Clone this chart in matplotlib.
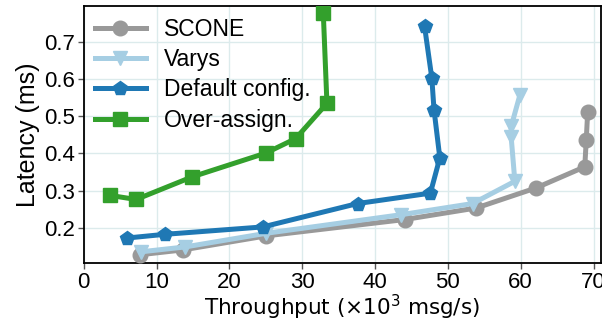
import matplotlib
matplotlib.use("Agg")
import matplotlib.pyplot as plt

plt.rcParams['font.family'] = ['Liberation Sans', 'DejaVu Sans']

labels = ["SCONE", "Varys", "Default config.", "Over-assign."]
colors = ["#999999", "#a6cee3", "#1f78b4", "#33a02c"]
markers = ["o", "v", "p", "s"]

scone_x = [7.7, 13.6, 25.1, 44.1, 53.9, 62.1, 68.8, 69.0, 69.2]
scone_y = [0.127, 0.140, 0.178, 0.222, 0.253, 0.307, 0.364, 0.435, 0.512]
varys_x = [7.9, 13.9, 25.1, 43.6, 53.4, 59.2, 58.7, 58.7, 59.9]
varys_y = [0.135, 0.148, 0.185, 0.235, 0.265, 0.325, 0.443, 0.473, 0.558]
default_x = [5.9, 11.1, 24.6, 37.6, 47.6, 48.9, 48.1, 47.8, 46.8]
default_y = [0.172, 0.182, 0.202, 0.265, 0.293, 0.388, 0.518, 0.603, 0.743]
over_x = [3.6, 7.2, 14.9, 25.0, 29.1, 33.4, 32.9]
over_y = [0.287, 0.276, 0.337, 0.401, 0.440, 0.535, 0.778]

series = [(scone_x, scone_y), (varys_x, varys_y), (default_x, default_y), (over_x, over_y)]

xticks = [0, 10, 20, 30, 40, 50, 60, 70]
yticks = [0.2, 0.3, 0.4, 0.5, 0.6, 0.7]

fig = plt.figure(figsize=(6.02, 3.23), dpi=100)
ax = fig.add_axes([0.139, 0.186, 0.859, 0.795])

for (xs, ys), lab, c, m in zip(series, labels, colors, markers):
    ax.plot(xs, ys, color=c, marker=m, label=lab, linewidth=3.6, markersize=10.5, zorder=3)

ax.set_xlim(0, 71)
ax.set_ylim(0.105, 0.797)
ax.set_xticks(xticks)
ax.set_yticks(yticks)
ax.set_xticklabels([str(t) for t in xticks])
ax.set_yticklabels([f"{t:.1f}" for t in yticks])
ax.tick_params(labelsize=16, length=4, width=1, color='#555555', pad=2.5)
ax.grid(True, color='#dcebec', linewidth=1, zorder=0)
ax.set_axisbelow(True)
for s in ax.spines.values():
    s.set_linewidth(1.3)
    s.set_color('black')

ax.set_xlabel("Throughput (×10$^3$ msg/s)", fontsize=15.5, family='DejaVu Sans', labelpad=0)
ax.set_ylabel("Latency (ms)", fontsize=18, labelpad=3)

ax.legend(loc='upper left', frameon=False, fontsize=16.5, handlelength=2.2,
          labelspacing=0.32, borderaxespad=0.1, handletextpad=0.8)

fig.savefig("out.png", dpi=100)
